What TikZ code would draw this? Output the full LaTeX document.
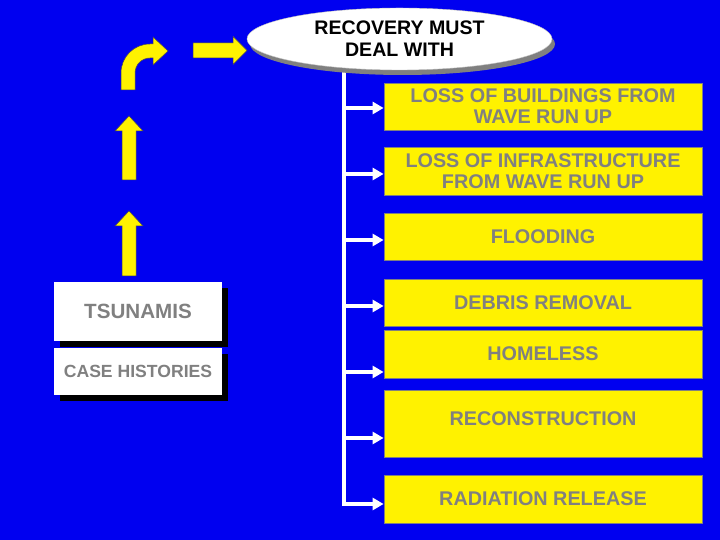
\documentclass[tikz,border=0pt]{standalone}
\usepackage{fontspec}
\setmainfont{Liberation Sans}
\usetikzlibrary{arrows.meta,shapes.geometric,shadows,backgrounds}
\definecolor{slideblue}{RGB}{0,0,240}
\definecolor{txtgray}{RGB}{128,128,128}

\begin{document}
\begin{tikzpicture}[x=1pt,y=1pt,
  goal/.style={ellipse,fill=white,draw=black!25,minimum width=305pt,minimum height=62pt,inner sep=0pt,align=center,
    font=\fontsize{19.6}{22}\selectfont\bfseries,drop shadow={shadow xshift=3pt,shadow yshift=-5pt,fill=txtgray,opacity=1}},
  item/.style={rectangle,draw=txtgray,fill=yellow,line width=0.8pt,minimum width=318pt,minimum height=47pt,inner sep=0pt,
    align=center,text=txtgray,font=\fontsize{19.8}{21}\selectfont\bfseries},
  card/.style={rectangle,fill=white,minimum width=168pt,inner sep=0pt,text=txtgray,
    drop shadow={shadow xshift=6pt,shadow yshift=-6pt,fill=black,opacity=1}},
  bigarrow/.style={fill=yellow,draw=black!70,line width=0.5pt},
  branch/.style={draw=white,line width=4pt,-{Triangle[length=11pt,width=12pt]}}]
\useasboundingbox (0,0) rectangle (720,540);

\node[goal] at (399.5,501) (must) {RECOVERY MUST\\DEAL WITH};

\node[card,minimum height=59pt,font=\fontsize{20.6}{24}\selectfont\bfseries] at (138,228.5) (tsu) {TSUNAMIS};
\node[card,minimum height=47pt,font=\fontsize{17.6}{20}\selectfont\bfseries] at (138,168.5) (case) {CASE HISTORIES};

\node[item] at (543,433.5) (b1) {LOSS OF BUILDINGS FROM\\WAVE RUN UP};
\node[item,minimum height=48pt] at (543,369) (b2) {LOSS OF INFRASTRUCTURE\\FROM WAVE RUN UP};
\node[item] at (543,303.5) (b3) {FLOODING};
\node[item] at (543,237.5) (b4) {DEBRIS REMOVAL};
\node[item,minimum height=48pt] at (543,186) (b5) {HOMELESS};
\node[item,minimum height=67pt,text depth=9pt] at (543,116.5) (b6) {RECONSTRUCTION};
\node[item,minimum height=48pt] at (543,41) (b7) {RADIATION RELEASE};

\coordinate (top) at (344,501);
\foreach \k in {1,...,7} \coordinate (s\k) at (344,{498-66*\k});
\foreach \k in {1,...,6} \draw[branch] (s\k) -- (s\k -| b\k.west);

\foreach \b/\h in {264/314,360/409}
  \draw[bigarrow] (122,\b) -- (122,\h) -- (115,\h) -- (129,\h+15) -- (143,\h) -- (136,\h) -- (136,\b) -- cycle;
\draw[bigarrow] (121,450) -- (121,467) arc[start angle=180,end angle=90,radius=29] -- (153,496) -- (153,503)
  -- (168,489) -- (153,475) -- (153,482) -- (150,482) arc[start angle=90,end angle=180,radius=15] -- (135,450) -- cycle;
\draw[bigarrow] (193,482) -- (233,482) -- (233,475.5) -- (247,489.5) -- (233,503.5) -- (233,497) -- (193,497) -- cycle;

\begin{scope}[on background layer]
\fill[slideblue] (0,0) rectangle (720,540);
\draw[branch] (top) -- (s7) -- (s7 -| b7.west);
\end{scope}
\end{tikzpicture}
\end{document}
